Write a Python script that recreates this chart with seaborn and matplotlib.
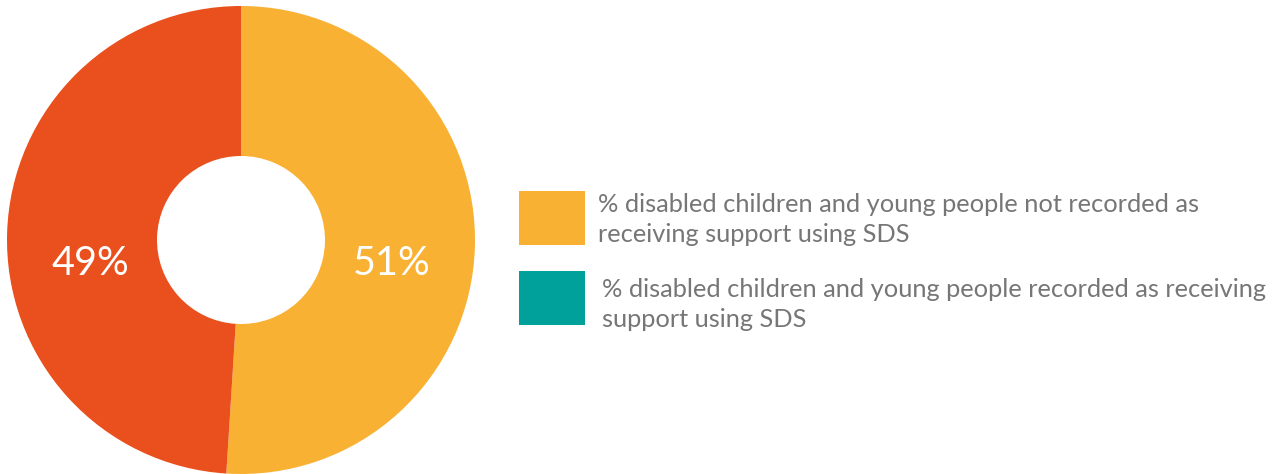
import matplotlib
matplotlib.use("Agg")
import matplotlib.pyplot as plt
import seaborn as sns
from matplotlib.patches import Rectangle

sns.set_theme(style="white")
plt.rcParams['font.family'] = ['Lato', 'DejaVu Sans']

# Data
slice_values = [51, 49]
slice_labels = ["51%", "49%"]
slice_colors = ["#F8B133", "#E9501D"]
legend_labels = [
    "% disabled children and young people not recorded as\nreceiving support using SDS",
    "% disabled children and young people recorded as receiving\nsupport using SDS",
]
legend_colors = ["#F8B133", "#00A19A"]

W, H = 1281, 474
fig = plt.figure(figsize=(W / 100, H / 100), dpi=100)
fig.patch.set_facecolor("white")

cx, cy, r = 241, 240, 234
ax = fig.add_axes([(cx - r) / W, (H - cy - r) / H, 2 * r / W, 2 * r / H])
ax.pie(slice_values, colors=slice_colors, startangle=90, counterclock=False,
       radius=1.0, wedgeprops=dict(width=1 - 84 / 234, edgecolor="none"))
ax.set_xlim(-1, 1)
ax.set_ylim(-1, 1)
ax.set_aspect("equal")
ax.axis("off")

ax.text(0.645, -0.1, slice_labels[0], color="white", fontsize=28.5,
        ha="center", va="center")
ax.text(-0.645, -0.1, slice_labels[1], color="white", fontsize=28.5,
        ha="center", va="center")

# Legend
boxes_y = [191, 271]
text_x = [598, 602]
baselines = [212, 297]
for i, (lab, col) in enumerate(zip(legend_labels, legend_colors)):
    y0 = boxes_y[i]
    fig.patches.append(Rectangle((519 / W, (H - y0 - 54) / H), 66 / W, 54 / H,
                                 transform=fig.transFigure, facecolor=col,
                                 edgecolor="none"))
    for j, line in enumerate(lab.split("\n")):
        fig.text(text_x[i] / W, (H - baselines[i] - 30 * j) / H, line,
                 ha="left", va="baseline", fontsize=18.3, color="#767676",
                 fontweight="normal")

fig.savefig("out.png", dpi=100, facecolor="white")
